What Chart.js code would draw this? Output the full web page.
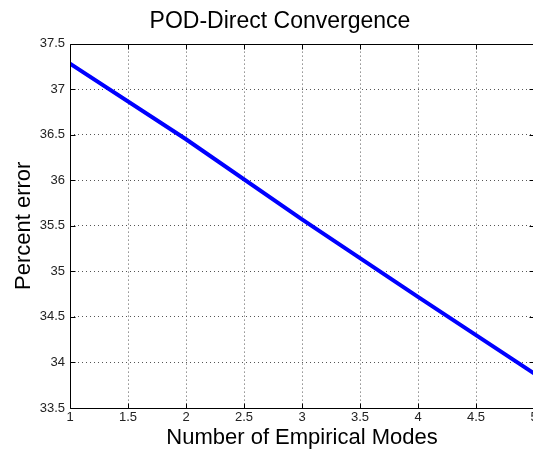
<!doctype html>
<html lang="en">
  <head>
    <meta charset="utf-8">
    <title>POD-Direct Convergence</title>
    <script src="https://cdn.jsdelivr.net/npm/chart.js@4.4.0/dist/chart.umd.min.js"></script>
    <style>
      html, body { margin: 0; padding: 0; background: #fff; overflow: hidden; }
      #wrap { width: 560px; height: 452px; }
    </style>
  </head>
  <body>
    <div id="wrap"><canvas id="myChart" width="560" height="452"></canvas></div>

    <script>
      // Data
      const modes = [1, 2, 3, 4, 5];
      const percentError = [37.28, 36.45, 35.57, 34.72, 33.88];
      const xTicks = [1, 1.5, 2, 2.5, 3, 3.5, 4, 4.5, 5];
      const yTicks = [33.5, 34, 34.5, 35, 35.5, 36, 36.5, 37, 37.5];

      const font = "Arial, 'Liberation Sans', Helvetica, sans-serif";

      // MATLAB-ish box with inward tick marks
      const boxTicks = {
        id: 'boxTicks',
        afterDraw(chart) {
          const {ctx, chartArea: a, scales: {x, y}} = chart;
          const len = 5;
          const l = Math.round(a.left) + 0.5, r = Math.round(a.right) + 0.5;
          const t = Math.round(a.top) + 0.5, b = Math.round(a.bottom) + 0.5;
          // cover the dotted grid line lying on the box edges
          ctx.save();
          ctx.fillStyle = '#fff';
          ctx.fillRect(l - 1, t - 1.5, r - l + 2, 2);
          ctx.fillRect(l - 1.5, b - 0.5, r - l + 2, 2);
          ctx.strokeStyle = '#000';
          ctx.lineWidth = 1;
          ctx.beginPath();
          ctx.rect(l, t, r - l, b - t);
          xTicks.forEach(v => {
            const px = Math.round(x.getPixelForValue(v)) + 0.5;
            ctx.moveTo(px, b); ctx.lineTo(px, b - len);
            ctx.moveTo(px, t); ctx.lineTo(px, t + len);
          });
          yTicks.forEach(v => {
            const py = Math.round(y.getPixelForValue(v)) + 0.5;
            ctx.moveTo(l, py); ctx.lineTo(l + len, py);
            ctx.moveTo(r, py); ctx.lineTo(r - len, py);
          });
          ctx.stroke();
          ctx.restore();
        }
      };

      const ctx = document.getElementById('myChart');

      const myChart = new Chart(ctx, {
        type: 'line',
        data: {
          datasets: [{
            data: modes.map((m, i) => ({x: m, y: percentError[i]})),
            borderColor: '#0000ff',
            borderWidth: 4,
            pointRadius: 0,
            fill: false,
            tension: 0
          }]
        },
        options: {
          responsive: false,
          animation: false,
          layout: {
            padding: {left: 26, right: 26, top: 0, bottom: 0}
          },
          plugins: {
            legend: {display: false},
            tooltip: {enabled: false},
            title: {
              display: true,
              text: 'POD-Direct Convergence',
              color: '#000',
              font: {family: font, size: 23, weight: 'normal'},
              padding: {top: 8, bottom: 8}
            }
          },
          scales: {
            x: {
              type: 'linear',
              min: 1,
              max: 5,
              afterFit: s => { s.height = 44; },
              afterBuildTicks: s => { s.ticks = xTicks.map(v => ({value: v})); },
              ticks: {
                color: '#222',
                font: {family: font, size: 13},
                padding: 2,
                maxRotation: 0,
                autoSkip: false,
                callback: v => String(v)
              },
              grid: {
                color: '#555',
                lineWidth: 1,
                drawTicks: false,
                tickLength: 0
              },
              border: {display: false, dash: [1, 3]},
              title: {
                display: true,
                text: 'Number of Empirical Modes',
                color: '#000',
                font: {family: font, size: 22},
                padding: {top: 0, bottom: 1}
              }
            },
            y: {
              type: 'linear',
              min: 33.5,
              max: 37.5,
              afterFit: s => { s.width = 44; },
              afterBuildTicks: s => { s.ticks = yTicks.map(v => ({value: v})); },
              ticks: {
                color: '#222',
                font: {family: font, size: 13},
                padding: 5,
                callback: v => String(v)
              },
              grid: {
                color: '#555',
                lineWidth: 1,
                drawTicks: false,
                tickLength: 0
              },
              border: {display: false, dash: [1, 3]},
              title: {
                display: true,
                text: 'Percent error',
                color: '#000',
                font: {family: font, size: 22},
                padding: {top: -15, bottom: 0}
              }
            }
          }
        },
        plugins: [boxTicks]
      });
    </script>
  </body>
</html>
